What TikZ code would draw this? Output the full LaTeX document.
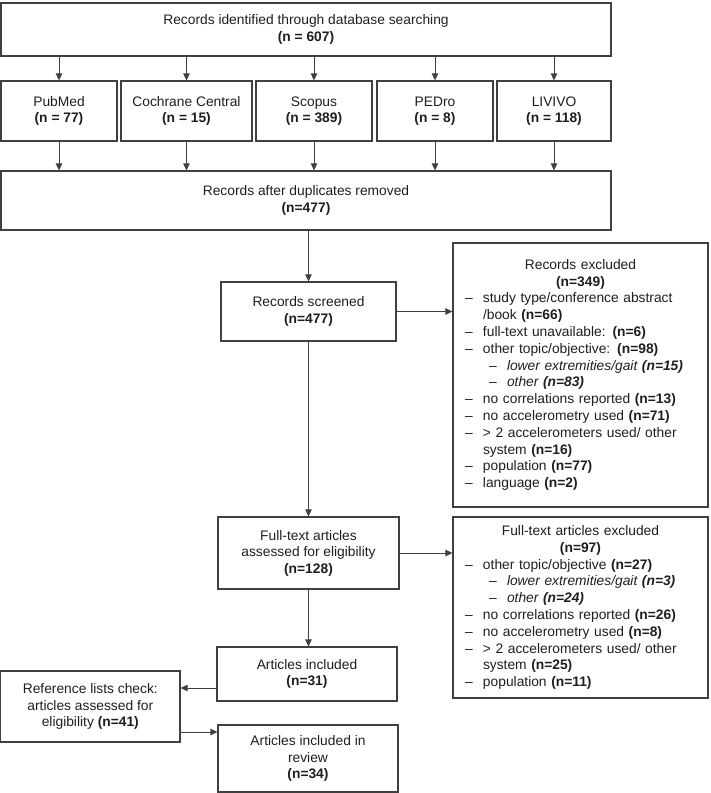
\documentclass[tikz,border=0pt]{standalone}
\usepackage{fontspec}
\setmainfont{Liberation Sans}
\usetikzlibrary{arrows.meta}
\setlength{\parindent}{0pt}
\definecolor{ln}{RGB}{64,64,64}
\definecolor{tx}{RGB}{30,30,30}
\newcommand{\ctl}[1]{\makebox[231pt]{#1}}
\newcommand{\itm}[1]{\makebox[18pt][l]{–}#1}
\newcommand{\sitm}[1]{\hspace*{24pt}\makebox[18pt][l]{–}\textit{#1}}
\newcommand{\cnt}[1]{\hspace*{18pt}#1}
\tikzset{
  box/.style={draw=ln, line width=1.2pt, inner sep=0pt, align=center, text=tx,
    font=\fontsize{13.8}{16.5}\selectfont},
  exbox/.style={box, align=left, inner xsep=12pt, text width=231pt,
    font=\fontsize{13.8}{16.8}\selectfont},
  arr/.style={draw=ln, line width=1pt, -{Triangle[length=7pt,width=6.5pt]}},
}
\begin{document}
\begin{tikzpicture}[x=1pt,y=-1pt]
\useasboundingbox (0,0) rectangle (711,793);
\node[box, minimum width=610pt, minimum height=53pt] (top) at (306,29.5)
  {Records identified through database searching\\\textbf{(n = 607)}};
\node[box, minimum width=116pt, minimum height=60pt] (pubmed) at (59,111) {PubMed\\\textbf{(n = 77)}};
\node[box, minimum width=131pt, minimum height=60pt] (cochrane) at (186.5,111) {Cochrane Central\\\textbf{(n = 15)}};
\node[box, minimum width=116pt, minimum height=60pt] (scopus) at (314,111) {Scopus\\\textbf{(n = 389)}};
\node[box, minimum width=116pt, minimum height=60pt] (pedro) at (435,111) {PEDro\\\textbf{(n = 8)}};
\node[box, minimum width=114pt, minimum height=60pt] (livivo) at (554,111) {LIVIVO\\\textbf{(n = 118)}};
\node[box, minimum width=610pt, minimum height=59pt] (dup) at (306,200.5)
  {Records after duplicates removed\\\textbf{(n=477)}};
\node[box, minimum width=175pt, minimum height=59pt] (screened) at (308.5,311.5)
  {Records screened\\\textbf{(n=477)}};
\node[exbox, minimum width=255pt, minimum height=264pt] (excl1) at (580.5,375)
  {\ctl{Records excluded}\\
   \ctl{\textbf{(n=349)}}\\
   \itm{study type/conference abstract}\\
   \cnt{/book \textbf{(n=66)}}\\
   \itm{full-text unavailable: \textbf{(n=6)}}\\
   \itm{other topic/objective: \textbf{(n=98)}}\\
   \sitm{lower extremities/gait \textbf{(n=15)}}\\
   \sitm{other \textbf{(n=83)}}\\
   \itm{no correlations reported \textbf{(n=13)}}\\
   \itm{no accelerometry used \textbf{(n=71)}}\\
   \itm{> 2 accelerometers used/ other}\\
   \cnt{system \textbf{(n=16)}}\\
   \itm{population \textbf{(n=77)}}\\
   \itm{language \textbf{(n=2)}}};
\node[box, minimum width=181pt, minimum height=72pt] (fulltext) at (308.5,553)
  {Full-text articles\\assessed for eligibility\\\textbf{(n=128)}};
\node[exbox, minimum width=255pt, minimum height=181pt] (excl2) at (580.5,607.5)
  {\ctl{Full-text articles excluded}\\
   \ctl{\textbf{(n=97)}}\\
   \itm{other topic/objective \textbf{(n=27)}}\\
   \sitm{lower extremities/gait \textbf{(n=3)}}\\
   \sitm{other \textbf{(n=24)}}\\
   \itm{no correlations reported \textbf{(n=26)}}\\
   \itm{no accelerometry used \textbf{(n=8)}}\\
   \itm{> 2 accelerometers used/ other}\\
   \cnt{system \textbf{(n=25)}}\\
   \itm{population \textbf{(n=11)}}};
\node[box, minimum width=180pt, minimum height=54pt] (included) at (307,674)
  {Articles included\\\textbf{(n=31)}};
\node[box, minimum width=179.4pt, minimum height=71pt] (reflist) at (90.3,706.5)
  {Reference lists check:\\articles assessed for\\eligibility \textbf{(n=41)}};
\node[box, minimum width=180pt, minimum height=67pt] (review) at (308,758.5)
  {Articles included in\\review\\\textbf{(n=34)}};
\foreach \s in {pubmed,cochrane,scopus,pedro,livivo}{
  \draw[arr] (top.south -| \s.north) -- (\s.north);
  \draw[arr] (\s.south) -- (dup.north -| \s.south);
}
\draw[arr] (dup.south -| screened.north) -- (screened.north);
\draw[arr] (screened.east) -- (screened.east -| excl1.west);
\draw[arr] (screened.south) -- (fulltext.north);
\draw[arr] (fulltext.east) -- (fulltext.east -| excl2.west);
\draw[arr] (fulltext.south) -- (included.north -| fulltext.south);
\draw[arr] ([yshift=-14pt]included.west) -- ([yshift=-14pt]included.west -| reflist.east);
\draw[arr] ([yshift=-25.5pt]reflist.east) -- ([yshift=-25.5pt]reflist.east -| review.west);
\end{tikzpicture}
\end{document}
